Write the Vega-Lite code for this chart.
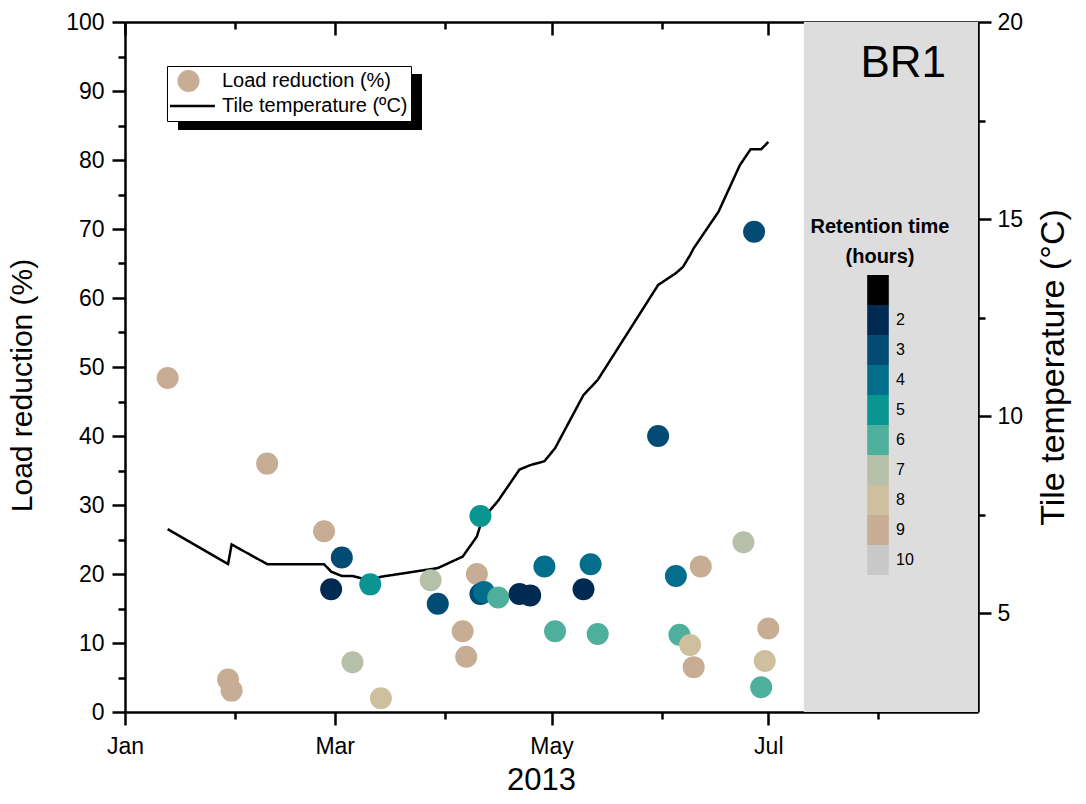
{
  "$schema": "https://vega.github.io/schema/vega-lite/v6.json",
  "autosize": {"type": "none"},
  "padding": {"left": 125, "top": 22, "right": 108, "bottom": 92},
  "width": 853,
  "height": 690,
  "background": "white",
  "config": {
    "view": {"stroke": null},
    "font": "Liberation Sans",
    "axis": {
      "domainColor": "black", "domainWidth": 2.5, "tickColor": "black", "tickWidth": 2.5,
      "labelColor": "black", "titleColor": "black", "labelFont": "Liberation Sans", "titleFont": "Liberation Sans",
      "titleFontWeight": "normal", "grid": false, "labelFontSize": 23, "labelFlush": false, "labelOverlap": false
    },
    "legend": {"labelFont": "Liberation Sans", "titleFont": "Liberation Sans", "labelLimit": 400}
  },
  "datasets": {
    "shade": [{"start": "2013-07-11", "end": "2013-08-29"}],
    "panel": [{"label": "BR1", "date": "2013-08-20", "load": 92}],
    "temp": [
      {"date": "2013-01-13", "temp": 7.14},
      {"date": "2013-01-30", "temp": 6.25},
      {"date": "2013-01-31", "temp": 6.75},
      {"date": "2013-02-10", "temp": 6.25},
      {"date": "2013-02-26", "temp": 6.25},
      {"date": "2013-02-28", "temp": 6.06},
      {"date": "2013-03-03", "temp": 5.95},
      {"date": "2013-03-06", "temp": 5.95},
      {"date": "2013-03-11", "temp": 5.83},
      {"date": "2013-03-14", "temp": 5.93},
      {"date": "2013-03-30", "temp": 6.15},
      {"date": "2013-04-06", "temp": 6.44},
      {"date": "2013-04-10", "temp": 6.95},
      {"date": "2013-04-11", "temp": 7.24},
      {"date": "2013-04-13", "temp": 7.54},
      {"date": "2013-04-16", "temp": 7.86},
      {"date": "2013-04-22", "temp": 8.65},
      {"date": "2013-04-25", "temp": 8.76},
      {"date": "2013-04-29", "temp": 8.86},
      {"date": "2013-05-02", "temp": 9.19},
      {"date": "2013-05-10", "temp": 10.54},
      {"date": "2013-05-14", "temp": 10.92},
      {"date": "2013-05-31", "temp": 13.33},
      {"date": "2013-06-05", "temp": 13.63},
      {"date": "2013-06-07", "temp": 13.79},
      {"date": "2013-06-09", "temp": 14.09},
      {"date": "2013-06-10", "temp": 14.26},
      {"date": "2013-06-17", "temp": 15.19},
      {"date": "2013-06-23", "temp": 16.37},
      {"date": "2013-06-26", "temp": 16.77},
      {"date": "2013-06-29", "temp": 16.77},
      {"date": "2013-07-01", "temp": 16.96}
    ],
    "points": [
      {"date": "2013-01-13", "load": 48.4, "rt": 9},
      {"date": "2013-01-30", "load": 4.7, "rt": 9},
      {"date": "2013-01-31", "load": 3.1, "rt": 9},
      {"date": "2013-02-10", "load": 36.0, "rt": 9},
      {"date": "2013-02-26", "load": 26.2, "rt": 9},
      {"date": "2013-02-28", "load": 17.8, "rt": 2},
      {"date": "2013-03-03", "load": 22.4, "rt": 3},
      {"date": "2013-03-06", "load": 7.2, "rt": 7},
      {"date": "2013-03-11", "load": 18.5, "rt": 5},
      {"date": "2013-03-14", "load": 2.0, "rt": 8},
      {"date": "2013-03-28", "load": 19.1, "rt": 7},
      {"date": "2013-03-30", "load": 15.7, "rt": 3},
      {"date": "2013-04-06", "load": 11.7, "rt": 9},
      {"date": "2013-04-07", "load": 8.0, "rt": 9},
      {"date": "2013-04-10", "load": 20.0, "rt": 9},
      {"date": "2013-04-11", "load": 28.4, "rt": 5},
      {"date": "2013-04-11", "load": 17.1, "rt": 3},
      {"date": "2013-04-12", "load": 17.4, "rt": 4},
      {"date": "2013-04-16", "load": 16.6, "rt": 6},
      {"date": "2013-04-22", "load": 17.1, "rt": 2},
      {"date": "2013-04-25", "load": 16.9, "rt": 2},
      {"date": "2013-04-29", "load": 21.1, "rt": 4},
      {"date": "2013-05-02", "load": 11.7, "rt": 6},
      {"date": "2013-05-10", "load": 17.8, "rt": 2},
      {"date": "2013-05-12", "load": 21.4, "rt": 4},
      {"date": "2013-05-14", "load": 11.3, "rt": 6},
      {"date": "2013-05-31", "load": 40.0, "rt": 3},
      {"date": "2013-06-05", "load": 19.7, "rt": 4},
      {"date": "2013-06-06", "load": 11.2, "rt": 6},
      {"date": "2013-06-09", "load": 9.7, "rt": 8},
      {"date": "2013-06-10", "load": 6.5, "rt": 9},
      {"date": "2013-06-12", "load": 21.1, "rt": 9},
      {"date": "2013-06-24", "load": 24.6, "rt": 7},
      {"date": "2013-06-27", "load": 69.6, "rt": 3},
      {"date": "2013-06-29", "load": 3.6, "rt": 6},
      {"date": "2013-06-30", "load": 7.4, "rt": 8},
      {"date": "2013-07-01", "load": 12.1, "rt": 9}
    ]
  },
  "layer": [
    {
      "data": {"name": "shade"},
      "mark": {"type": "rect", "color": "#DDDDDD"},
      "encoding": {
        "x": {
          "field": "start", "type": "temporal",
          "scale": {"type": "utc", "domain": [{"year": 2013, "month": 1, "date": 1, "utc": true}, {"year": 2013, "month": 8, "date": 29, "utc": true}]},
          "axis": {
            "orient": "bottom",
            "values": [
              {"year": 2013, "month": 1, "date": 1, "utc": true},
              {"year": 2013, "month": 2, "date": 1, "utc": true},
              {"year": 2013, "month": 3, "date": 1, "utc": true},
              {"year": 2013, "month": 4, "date": 1, "utc": true},
              {"year": 2013, "month": 5, "date": 1, "utc": true},
              {"year": 2013, "month": 6, "date": 1, "utc": true},
              {"year": 2013, "month": 7, "date": 1, "utc": true},
              {"year": 2013, "month": 8, "date": 1, "utc": true}
            ],
            "format": "%b",
            "labelExpr": "utcmonth(datum.value) % 2 === 0 ? datum.label : ''",
            "tickSize": {"expr": "utcmonth(datum.value) % 2 === 0 ? 13 : 7"},
            "labelPadding": 10,
            "title": "2013",
            "titleFontSize": 31,
            "titlePadding": 7,
            "titleX": 416
          }
        },
        "x2": {"field": "end"}
      }
    },
    {
      "data": {"name": "temp"},
      "mark": {"type": "line", "color": "black", "strokeWidth": 2.5},
      "encoding": {
        "x": {"field": "date", "type": "temporal", "scale": {"type": "utc"}, "axis": null},
        "y": {
          "field": "temp", "type": "quantitative",
          "scale": {"domain": [2.5, 20], "nice": false, "zero": false},
          "axis": {
            "orient": "right",
            "values": [5, 7.5, 10, 12.5, 15, 17.5, 20],
            "labelExpr": "datum.value % 5 === 0 ? datum.label : ''",
            "tickSize": {"expr": "datum.value % 5 === 0 ? 13 : 7"},
            "labelPadding": 6,
            "title": "Tile temperature (°C)",
            "titleFontSize": 34,
            "titleAngle": 270,
            "titleBaseline": "top",
            "titlePadding": 14
          }
        },
        "strokeDash": {
          "datum": "Load reduction (%) ", "type": "nominal",
          "scale": {"domain": ["Load reduction (%) ", "Tile temperature (ºC) "], "range": [[1, 0], [1, 0]]},
          "legend": {
            "orient": "none", "legendX": 53, "legendY": 52, "title": null,
            "fillColor": "black", "strokeColor": "black", "padding": 3,
            "labelFontSize": 20, "labelColor": "black", "labelOpacity": 0, "labelOffset": 21, "labelLimit": 400,
            "symbolType": "circle", "symbolSize": 484, "symbolOffset": 6, "rowPadding": 1, "clipHeight": 24,
            "symbolFillColor": "black", "symbolStrokeColor": "black", "zindex": 1
          }
        }
      }
    },
    {
      "data": {"name": "points"},
      "mark": {"type": "point", "filled": true, "size": 484, "opacity": 1, "strokeWidth": 0},
      "encoding": {
        "x": {
          "field": "date", "type": "temporal", "scale": {"type": "utc"},
          "axis": {
            "orient": "top",
            "values": [
              {"year": 2013, "month": 1, "date": 1, "utc": true},
              {"year": 2013, "month": 2, "date": 1, "utc": true},
              {"year": 2013, "month": 3, "date": 1, "utc": true},
              {"year": 2013, "month": 4, "date": 1, "utc": true},
              {"year": 2013, "month": 5, "date": 1, "utc": true},
              {"year": 2013, "month": 6, "date": 1, "utc": true},
              {"year": 2013, "month": 7, "date": 1, "utc": true},
              {"year": 2013, "month": 8, "date": 1, "utc": true}
            ],
            "labels": false,
            "title": null,
            "tickSize": {"expr": "utcmonth(datum.value) % 2 === 0 ? -13 : -7"}
          }
        },
        "y": {
          "field": "load", "type": "quantitative",
          "scale": {"domain": [0, 100], "nice": false},
          "axis": {
            "orient": "left",
            "values": [0, 5, 10, 15, 20, 25, 30, 35, 40, 45, 50, 55, 60, 65, 70, 75, 80, 85, 90, 95, 100],
            "labelExpr": "datum.value % 10 === 0 ? datum.label : ''",
            "tickSize": {"expr": "datum.value % 10 === 0 ? 13 : 7"},
            "labelPadding": 8,
            "title": "Load reduction (%)",
            "titleFontSize": 30,
            "titlePadding": 28,
            "titleY": 363
          }
        },
        "color": {
          "field": "rt", "type": "ordinal",
          "scale": {
            "domain": [1, 2, 3, 4, 5, 6, 7, 8, 9, 10],
            "range": ["#000000", "#012A52", "#014B74", "#036E8C", "#0A9592", "#4DAF9C", "#B6BFA7", "#CEBF9E", "#C7AD94", "#C8C8C8"]
          },
          "legend": {
            "orient": "none", "legendX": 686, "legendY": 195,
            "title": ["Retention time", "(hours)"],
            "titleFontSize": 20, "titleFontWeight": "bold", "titleColor": "black",
            "titleAnchor": "middle", "titleAlign": "center", "titleLineHeight": 30, "titlePadding": 8,
            "symbolType": "M-0.72,-1H0.72V1H-0.72Z", "symbolSize": 900, "symbolStrokeWidth": 0, "symbolOpacity": 1,
            "symbolOffset": 17, "labelOffset": 3, "labelFontSize": 16, "labelColor": "black",
            "rowPadding": 0, "padding": 0, "zindex": 3,
            "labelExpr": "datum.value == 1 ? '' : datum.label"
          }
        },
        "shape": {
          "datum": "Load reduction (%)", "type": "nominal",
          "scale": {"domain": ["Load reduction (%)", "Tile temperature (ºC)"], "range": ["circle", "M-2.4,0H2.4"]},
          "legend": {
            "orient": "none", "legendX": 42, "legendY": 44, "title": null,
            "fillColor": "white", "strokeColor": "black", "padding": 3,
            "labelFontSize": 20, "labelColor": "black", "labelOffset": 21, "labelLimit": 400,
            "symbolSize": 484, "symbolOffset": 6, "rowPadding": 1, "clipHeight": 24, "zindex": 2,
            "symbolFillColor": {"expr": "datum.index === 0 ? '#C7AD94' : 'transparent'"},
            "symbolStrokeColor": {"expr": "datum.index === 0 ? 'transparent' : 'black'"},
            "symbolStrokeWidth": 2.5
          }
        }
      }
    },
    {
      "data": {"name": "panel"},
      "mark": {"type": "text", "align": "right", "baseline": "alphabetic", "fontSize": 44, "font": "Liberation Sans", "color": "black"},
      "encoding": {
        "x": {"field": "date", "type": "temporal", "scale": {"type": "utc"}, "axis": null},
        "y": {"field": "load", "type": "quantitative", "scale": {"domain": [0, 100], "nice": false}, "axis": null},
        "text": {"field": "label"}
      }
    }
  ],
  "resolve": {"scale": {"y": "independent"}, "axis": {"x": "independent"}}
}
